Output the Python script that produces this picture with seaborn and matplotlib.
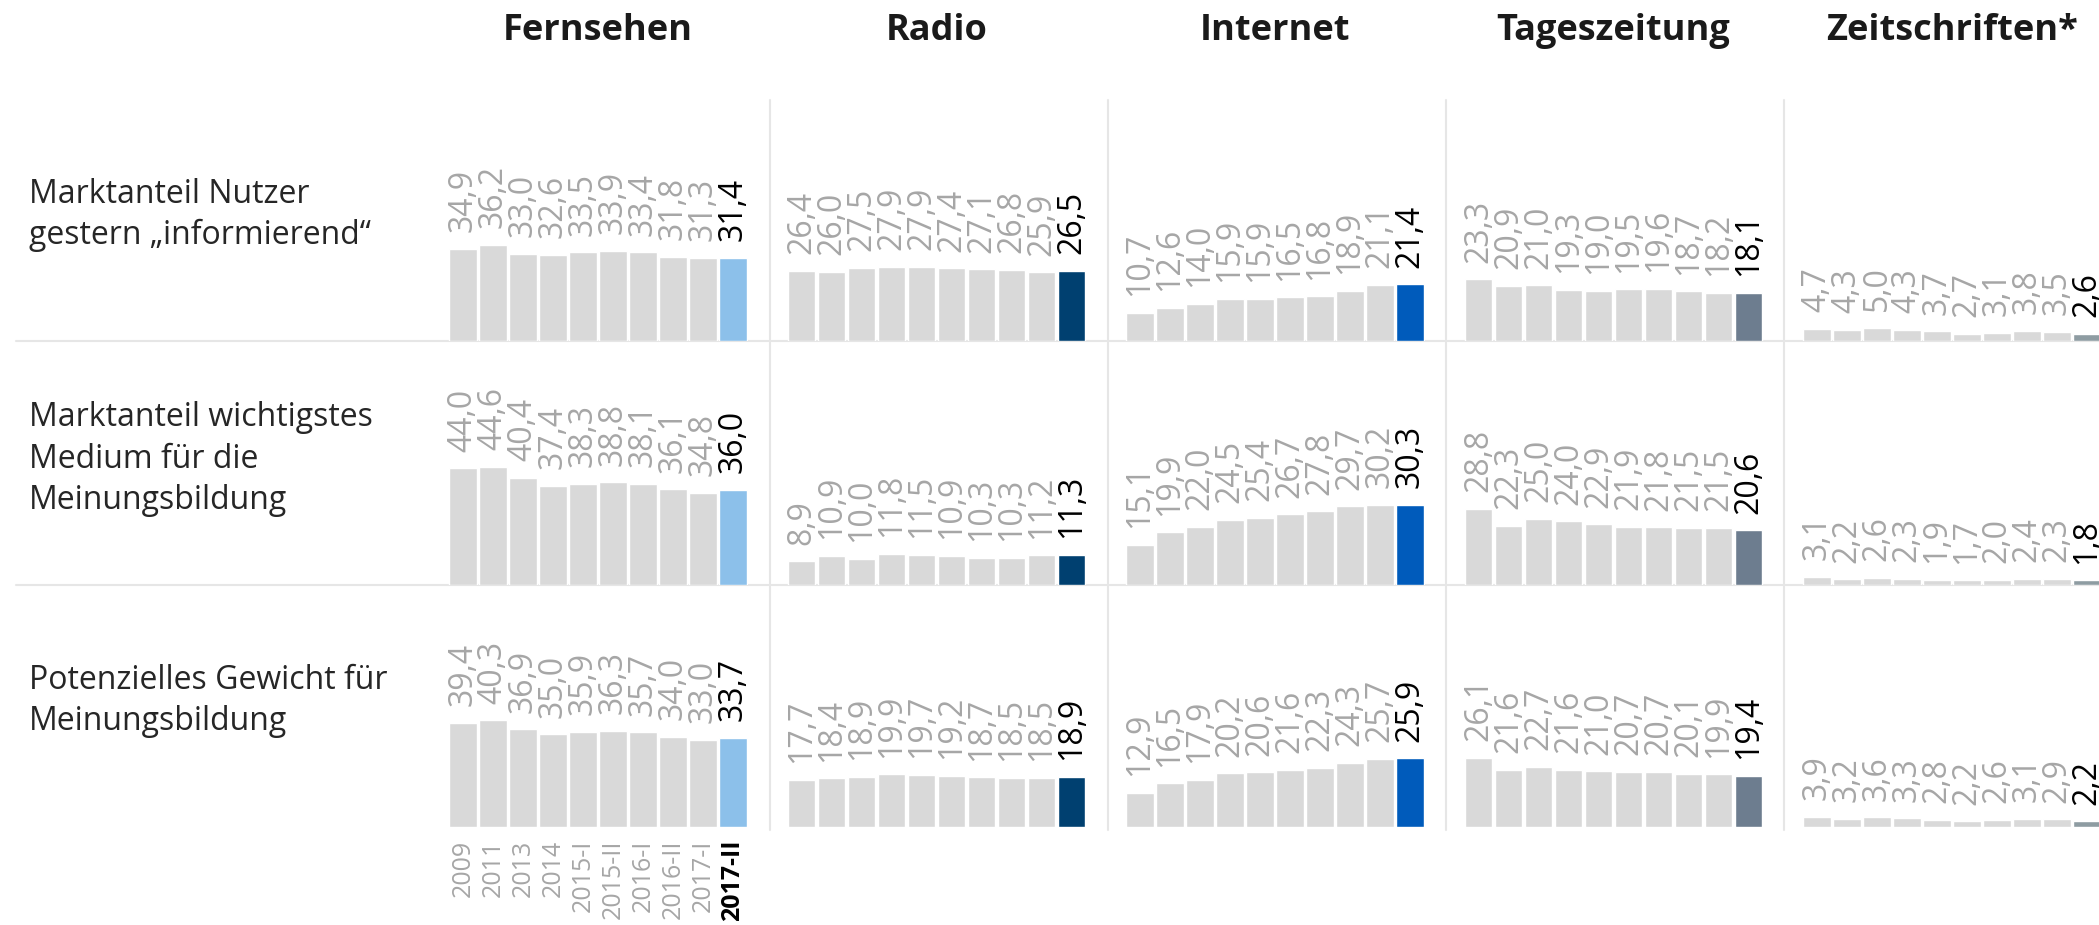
import matplotlib
matplotlib.use("Agg")
import matplotlib.pyplot as plt
from matplotlib.lines import Line2D
import seaborn as sns

# data
years = ["2009", "2011", "2013", "2014", "2015-I", "2015-II", "2016-I", "2016-II", "2017-I", "2017-II"]
media = ["Fernsehen", "Radio", "Internet", "Tageszeitung", "Zeitschriften*"]
rows = ["Marktanteil Nutzer\ngestern \u201einformierend\u201c",
        "Marktanteil wichtigstes\nMedium f\u00fcr die\nMeinungsbildung",
        "Potenzielles Gewicht f\u00fcr\nMeinungsbildung"]

fernsehen = [[34.9, 36.2, 33.0, 32.6, 33.5, 33.9, 33.4, 31.8, 31.3, 31.4],
             [44.0, 44.6, 40.4, 37.4, 38.3, 38.8, 38.1, 36.1, 34.8, 36.0],
             [39.4, 40.3, 36.9, 35.0, 35.9, 36.3, 35.7, 34.0, 33.0, 33.7]]
radio = [[26.4, 26.0, 27.5, 27.9, 27.9, 27.4, 27.1, 26.8, 25.9, 26.5],
         [8.9, 10.9, 10.0, 11.8, 11.5, 10.9, 10.3, 10.3, 11.2, 11.3],
         [17.7, 18.4, 18.9, 19.9, 19.7, 19.2, 18.7, 18.5, 18.5, 18.9]]
internet = [[10.7, 12.6, 14.0, 15.9, 15.9, 16.5, 16.8, 18.9, 21.1, 21.4],
            [15.1, 19.9, 22.0, 24.5, 25.4, 26.7, 27.8, 29.7, 30.2, 30.3],
            [12.9, 16.5, 17.9, 20.2, 20.6, 21.6, 22.3, 24.3, 25.7, 25.9]]
tageszeitung = [[23.3, 20.9, 21.0, 19.3, 19.0, 19.5, 19.6, 18.7, 18.2, 18.1],
                [28.8, 22.3, 25.0, 24.0, 22.9, 21.9, 21.8, 21.5, 21.5, 20.6],
                [26.1, 21.6, 22.7, 21.6, 21.0, 20.7, 20.7, 20.1, 19.9, 19.4]]
zeitschriften = [[4.7, 4.3, 5.0, 4.3, 3.7, 2.7, 3.1, 3.8, 3.5, 2.6],
                 [3.1, 2.2, 2.6, 2.3, 1.9, 1.7, 2.0, 2.4, 2.3, 1.8],
                 [3.9, 3.2, 3.6, 3.3, 2.8, 2.2, 2.6, 3.1, 2.9, 2.2]]
all_data = [fernsehen, radio, internet, tageszeitung, zeitschriften]

highlight = ["#8cc0ea", "#004070", "#005bbb", "#6d7d8f", "#8e9ca2"]
grey_bar = "#d9d9d9"
grey_txt = "#a6a6a6"

sns.set_theme(style="white")
plt.rcParams["font.family"] = ["Open Sans", "DejaVu Sans"]

W, H = 2099, 925
fig = plt.figure(figsize=(W / 100, H / 100), dpi=100)

# pixel layout
col_x = [448, 786.5, 1125, 1463.5, 1802]
panel_w = 300
baselines = [341, 585, 827]
panel_h = 236
px_per_unit = 2.65

# separator lines
for yb in baselines[:2]:
    fig.add_artist(Line2D([16 / W, 1], [1 - yb / H, 1 - yb / H], color="#e6e6e6", lw=1.5,
                          transform=fig.transFigure, zorder=0))
for xs in [770, 1108, 1446, 1784]:
    fig.add_artist(Line2D([xs / W, xs / W], [1 - 100 / H, 1 - 830 / H], color="#e6e6e6", lw=1.5,
                          transform=fig.transFigure, zorder=0))

for j, m in enumerate(media):
    # column title
    fig.text((col_x[j] + panel_w / 2) / W, 1 - 31 / H, m, ha="center", va="center",
             fontsize=26, fontweight="bold", color="#1a1a1a")
    for i in range(3):
        vals = all_data[j][i]
        ax = fig.add_axes([col_x[j] / W, 1 - baselines[i] / H, panel_w / W, panel_h / H])
        ax.patch.set_visible(False)
        cols = [grey_bar] * 9 + [highlight[j]]
        sns.barplot(x=years, y=vals, hue=years, palette=cols, legend=False,
                    width=0.92, saturation=1, ax=ax)
        ax.set_xlim(-0.5, 9.5)
        ax.set_ylim(0, panel_h / px_per_unit)
        for s in ax.spines.values():
            s.set_visible(False)
        ax.set_yticks([])
        ax.set_ylabel("")
        ax.set_xlabel("")
        for k, v in enumerate(vals):
            ax.annotate(f"{v:.1f}".replace(".", ","), (k, v), xytext=(0, 12),
                        textcoords="offset points", rotation=90, ha="center", va="bottom",
                        fontsize=23, color="black" if k == 9 else grey_txt,
                        annotation_clip=False)
        if j == 0 and i == 2:
            ax.set_xticks(range(10))
            ax.set_xticklabels(years, rotation=90, fontsize=18, color=grey_txt)
            ax.tick_params(axis="x", length=0, pad=9)
            last = ax.get_xticklabels()[-1]
            last.set_color("black")
            last.set_fontweight("bold")
        else:
            ax.set_xticks([])

for i, lab in enumerate(rows):
    fig.text(29 / W, 1 - (baselines[i] - 126) / H, lab, ha="left", va="center",
             fontsize=23, color="#262626", linespacing=1.33)

fig.savefig("out.png", dpi=100)
